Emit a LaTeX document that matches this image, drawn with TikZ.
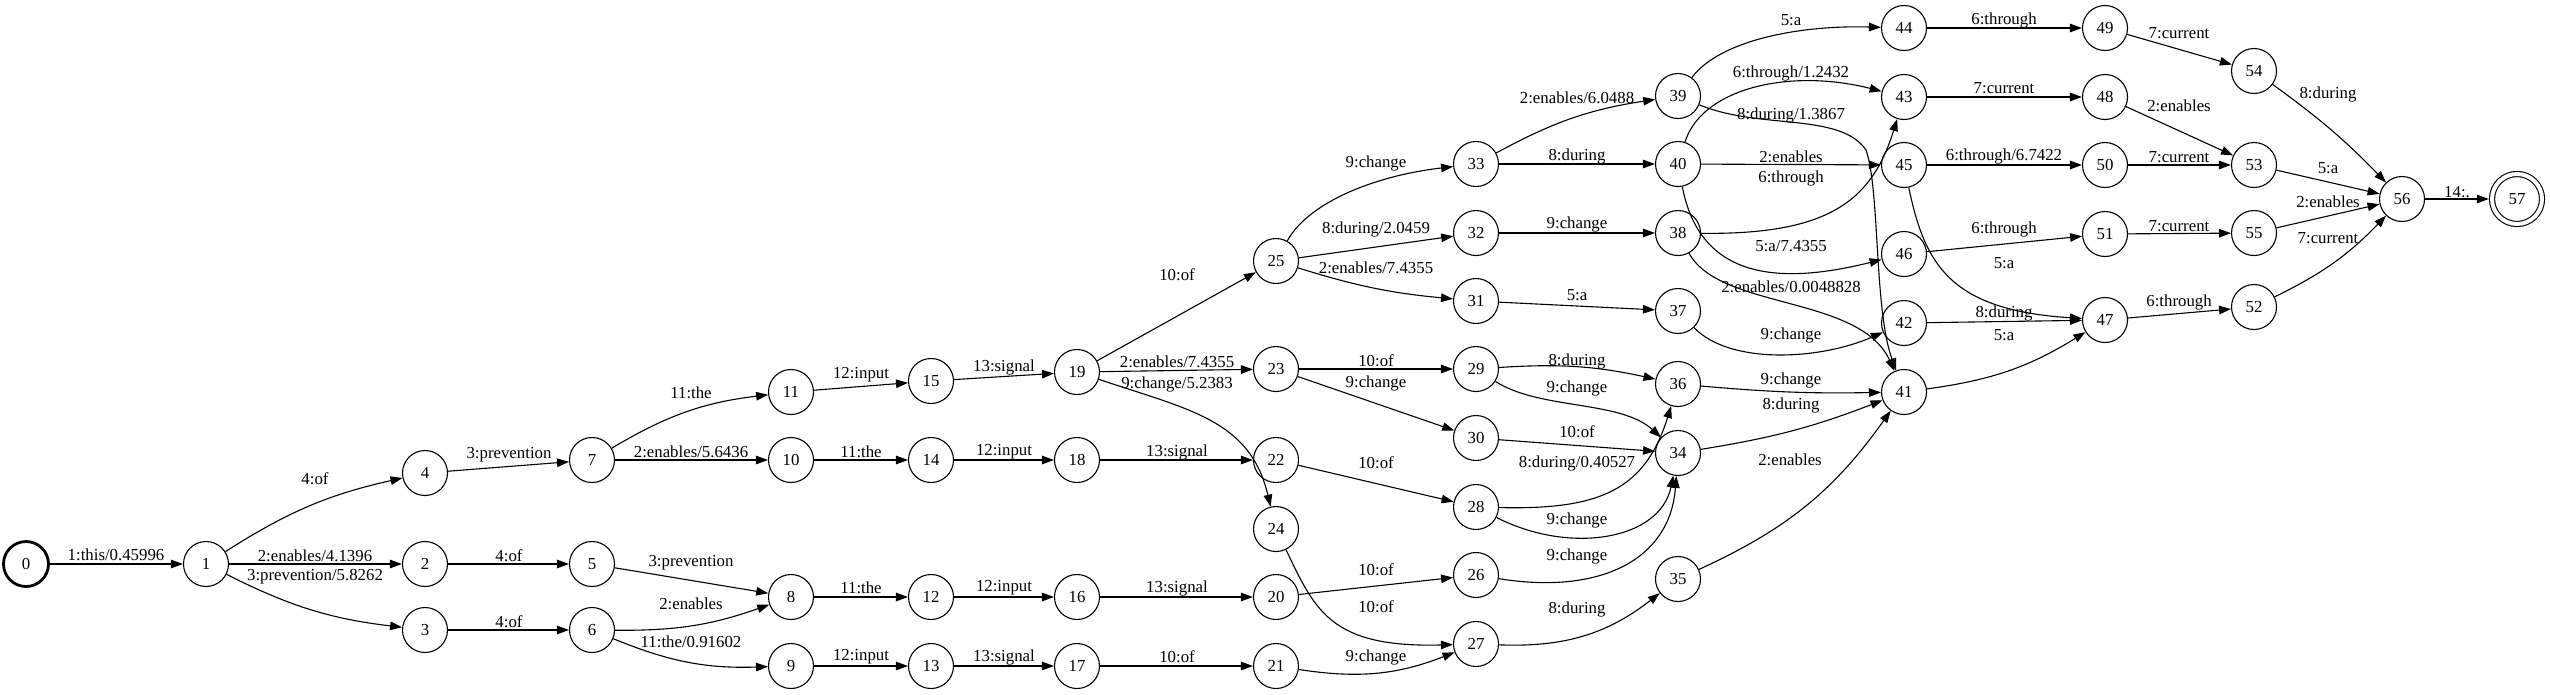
\documentclass[tikz,border=0pt]{standalone}
\usepackage{fontspec}
\setmainfont{Liberation Serif}
\usetikzlibrary{arrows.meta}
\tikzset{
state/.style={circle, draw, line width=1.1pt, minimum size=45pt, inner sep=0pt, font=\fontsize{16.8}{18}\selectfont},
start/.style={state, line width=2.8pt},
final/.style={state, double, double distance=4pt, minimum size=50pt, outer sep=3.2pt},
arc/.style={-{Triangle[length=12pt,width=8.5pt]}, line width=1.1pt},
lbl/.style={draw=none, inner sep=0pt, font=\fontsize{16.8}{18}\selectfont}
}
\newcommand*{\StateRow}[1]{% #1 = list of n/x/y
\foreach \n/\x/\y in {#1} {
\node [state] (s\n) at (\x,\y) {\n};
}%
}
\newcommand*{\ArcRow}[1]{% #1 = list of from/to/bend/lx/ly/\txt
\foreach \p/\q/\bn/\lx/\ly/\txt in {#1} {
\draw [arc] (s\p) to [bend left=\bn] (s\q);
\node [lbl] (l\p-\q) at (\lx,\ly) {\txt};
}%
}

\begin{document}
\begin{tikzpicture}[x=1pt, y=-1pt]
            \useasboundingbox (0,0) rectangle (2550,694);
            \node [start] (s0) at (26,564) {0};
            \StateRow{1/206/564, 2/425/564, 3/425/630, 4/425/473, 5/592/564, 6/592/630, 7/592/460}
            \StateRow{8/791/597, 9/791/666, 10/791/460, 11/791/392, 12/931/597, 13/931/666, 14/931/460, 15/931/381}
            \StateRow{16/1077/597, 17/1077/666, 18/1077/460, 19/1077/372}
            \StateRow{20/1276/597, 21/1276/666, 22/1276/460, 23/1276/369, 24/1276/529, 25/1276/261}
            \StateRow{26/1476/575, 27/1476/644, 28/1476/507, 29/1476/369, 30/1476/438, 31/1476/301, 32/1476/233, 33/1476/164}
            \StateRow{34/1678/453, 35/1678/579, 36/1678/384, 37/1678/311, 38/1678/233, 39/1678/96, 40/1678/164}
            \StateRow{41/1904/392, 42/1904/323, 43/1904/97, 44/1904/28, 45/1904/165, 46/1904/254}
            \StateRow{47/2105/320, 48/2105/97, 49/2105/28, 50/2105/165, 51/2105/234}
            \StateRow{52/2254/307, 53/2254/165, 54/2254/71, 55/2254/233, 56/2402/199}
            \node [final] (s57) at (2517,199) {57};

            \ArcRow{0/1/0/116/555/{1:this/0.45996}, 1/2/0/315/556/{2:enables/4.1396}, 1/4/10/315/479/4:of, 1/3/-10/315/577/{3:prevention/5.8262}}
            \ArcRow{4/7/0/509/455/3:prevention, 2/5/0/509/556/4:of, 3/6/0/509/622/4:of}
            \ArcRow{7/11/12/691/393/11:the, 7/10/0/691/452/{2:enables/5.6436}, 5/8/0/691/563/3:prevention, 6/8/-10/691/604/2:enables, 6/9/-12/691/642/{11:the/0.91602}}
            \ArcRow{11/15/0/861/375/12:input, 10/14/0/861/452/11:the, 8/12/0/861/588/11:the, 9/13/0/861/657/12:input}
            \ArcRow{15/19/0/1004/367/13:signal, 14/18/0/1004/452/12:input, 12/16/0/1004/588/12:input, 13/17/0/1004/657/13:signal}
            \ArcRow{19/25/0/1177/275/10:of, 19/23/0/1177/362/{2:enables/7.4355}, 18/22/0/1177/452/13:signal, 16/20/0/1177/588/13:signal, 17/21/0/1177/657/10:of}
            \ArcRow{25/32/0/1376/229/{8:during/2.0459}, 25/31/-6/1376/268/{2:enables/7.4355}, 23/29/0/1376/361/10:of, 23/30/0/1376/383/9:change, 22/28/0/1376/463/10:of, 20/26/0/1376/570/10:of, 21/27/-15/1376/657/9:change}
            \ArcRow{33/39/10/1577/98/{2:enables/6.0488}, 33/40/0/1577/156/8:during, 32/38/0/1577/224/9:change, 31/37/0/1577/295/5:a, 29/36/8/1577/361/8:during, 30/34/0/1577/432/10:of, 27/35/-20/1577/609/8:during}
            \ArcRow{40/45/0/1791/157/2:enables, 36/41/-3/1791/380/9:change, 34/41/-6/1791/405/8:during, 35/41/-15/1790/460/2:enables}
            \ArcRow{44/49/0/2004/20/6:through, 43/48/0/2004/88/7:current, 45/50/0/2004/156/{6:through/6.7422}, 46/51/0/2004/229/6:through, 42/47/0/2004/313/8:during, 41/47/-12/2004/335/5:a}
            \ArcRow{49/54/0/2179/33/7:current, 48/53/0/2179/106/2:enables, 50/53/0/2179/157/7:current, 51/55/0/2179/226/7:current, 47/52/0/2179/302/6:through}
            \ArcRow{54/56/5/2328/94/8:during, 53/56/0/2328/168/5:a, 55/56/0/2328/202/2:enables, 52/56/-10/2328/238/7:current, 56/57/0/2457/192/{14:.}}

            \draw [arc] (s19) .. controls (1190,410) and (1250,420) .. (s24);
            \node [lbl] (l19-24) at (1177,384) {9:change/5.2383};
            \draw [arc] (s24) .. controls (1315,610) and (1330,648) .. (s27);
            \node [lbl] (l24-27) at (1376,607) {10:of};
            \draw [arc] (s25) .. controls (1310,200) and (1380,175) .. (s33);
            \node [lbl] (l25-33) at (1376,163) {9:change};
            \draw [arc] (s29) .. controls (1540,410) and (1620,400) .. (s34);
            \node [lbl] (l29-34) at (1577,388) {9:change};
            \draw [arc] (s28) .. controls (1600,510) and (1645,490) .. (s36);
            \node [lbl] (l28-36) at (1577,463) {8:during/0.40527};
            \draw [arc] (s28) .. controls (1570,555) and (1660,540) .. (s34);
            \node [lbl] (l28-34) at (1577,520) {9:change};
            \draw [arc] (s26) .. controls (1600,595) and (1670,560) .. (s34);
            \node [lbl] (l26-34) at (1577,556) {9:change};
            \draw [arc] (s39) .. controls (1720,40) and (1800,25) .. (s44);
            \node [lbl] (l39-44) at (1791,20) {5:a};
            \draw [arc] (s40) .. controls (1702,88) and (1790,68) .. (s43);
            \node [lbl] (l40-43) at (1791,73) {6:through/1.2432};
            \draw [arc] (s39) .. controls (1760,130) and (1840,112) .. (1866,150) .. controls (1880,190) and (1874,310) .. (s41);
            \node [lbl] (l39-41) at (1791,115) {8:during/1.3867};
            \draw [arc] (s38) .. controls (1830,235) and (1872,200) .. (s43);
            \node [lbl] (l38-43) at (1791,178) {6:through};
            \draw [arc] (s40) .. controls (1700,280) and (1780,285) .. (s46);
            \node [lbl] (l40-46) at (1791,246) {5:a/7.4355};
            \draw [arc] (s38) .. controls (1720,310) and (1860,295) .. (s41);
            \node [lbl] (l38-41) at (1791,287) {2:enables/0.0048828};
            \draw [arc] (s37) .. controls (1730,365) and (1820,360) .. (s42);
            \node [lbl] (l37-42) at (1791,335) {9:change};
            \draw [arc] (s45) .. controls (1925,265) and (1950,310) .. (s47);
            \node [lbl] (l45-47) at (2004,263) {5:a};
        \end{tikzpicture}
\end{document}
